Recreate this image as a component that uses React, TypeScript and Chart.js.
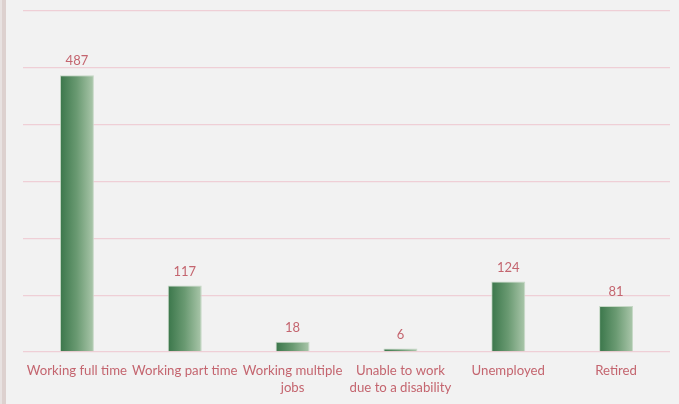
import React, { useEffect, useRef } from "react";
import { Chart, registerables } from "chart.js";

Chart.register(...registerables);

const categories: (string | string[])[] = [
  "Working full time",
  "Working part time",
  ["Working multiple", "jobs"],
  ["Unable to work", "due to a disability"],
  "Unemployed",
  "Retired",
];
const counts = [487, 117, 18, 6, 124, 81];
const yMax = 600;
const yStep = 100;

const LABEL_COLOR = "#c4656f";
const FONT = "Lato, 'Open Sans', sans-serif";

const valueLabels = {
  id: "valueLabels",
  afterDatasetsDraw(chart: any) {
    const { ctx } = chart;
    const meta = chart.getDatasetMeta(0);
    ctx.save();
    ctx.fillStyle = LABEL_COLOR;
    ctx.font = `13px ${FONT}`;
    ctx.textAlign = "center";
    ctx.textBaseline = "alphabetic";
    meta.data.forEach((bar: any, i: number) => {
      ctx.fillText(String(counts[i]), bar.x, bar.y - 10);
    });
    ctx.restore();
  },
};

export default function App() {
  const ref = useRef<HTMLCanvasElement | null>(null);

  useEffect(() => {
    document.body.style.margin = "0";
    const canvas = ref.current!;
    const chart = new Chart(canvas, {
      type: "bar",
      data: {
        labels: categories,
        datasets: [
          {
            data: counts,
            backgroundColor: (context: any) => {
              const c = context.chart;
              const { ctx, chartArea } = c;
              if (!chartArea || !c.scales.x) return "#5a8f62";
              const x = c.scales.x.getPixelForValue(context.dataIndex);
              const half = 17;
              const g = ctx.createLinearGradient(x - half, 0, x + half, 0);
              g.addColorStop(0, "#3a764a");
              g.addColorStop(0.5, "#6a9a72");
              g.addColorStop(1, "#abc7ab");
              return g;
            },
            borderColor: "#c6d8c6",
            borderWidth: 1,
            barPercentage: 0.315,
            categoryPercentage: 1,
          },
        ],
      },
      options: {
        animation: false,
        responsive: false,
        devicePixelRatio: 1,
        layout: { padding: { left: 23, right: 9, top: 11, bottom: 0 } },
        plugins: {
          legend: { display: false },
          tooltip: { enabled: false },
        },
        scales: {
          x: {
            grid: { display: false, drawTicks: false },
            border: { display: false },
            ticks: {
              color: LABEL_COLOR,
              font: { family: FONT, size: 13.2, lineHeight: 1.3 },
              padding: 10,
              maxRotation: 0,
              minRotation: 0,
              autoSkip: false,
            },
            afterFit: (scale: any) => {
              scale.height = 52;
            },
          },
          y: {
            min: 0,
            max: yMax,
            ticks: { display: false, stepSize: yStep },
            grid: { color: "#efcfd6", lineWidth: 1.3, drawTicks: false },
            border: { display: false },
          },
        },
      },
      plugins: [valueLabels],
    });
    return () => chart.destroy();
  }, []);

  return (
    <div
      style={{
        position: "fixed",
        left: 0,
        top: 0,
        width: 679,
        height: 404,
        background: "#f2f2f2",
      }}
    >
      <div
        style={{
          position: "absolute",
          left: 0,
          top: 0,
          width: 2,
          height: 404,
          background: "#e8e2e1",
        }}
      />
      <div
        style={{
          position: "absolute",
          left: 2,
          top: 0,
          width: 4,
          height: 404,
          background: "#ddd1cf",
        }}
      />
      <canvas
        ref={ref}
        width={679}
        height={404}
        style={{ position: "absolute", left: 0, top: 0, width: 679, height: 404 }}
      />
    </div>
  );
}
